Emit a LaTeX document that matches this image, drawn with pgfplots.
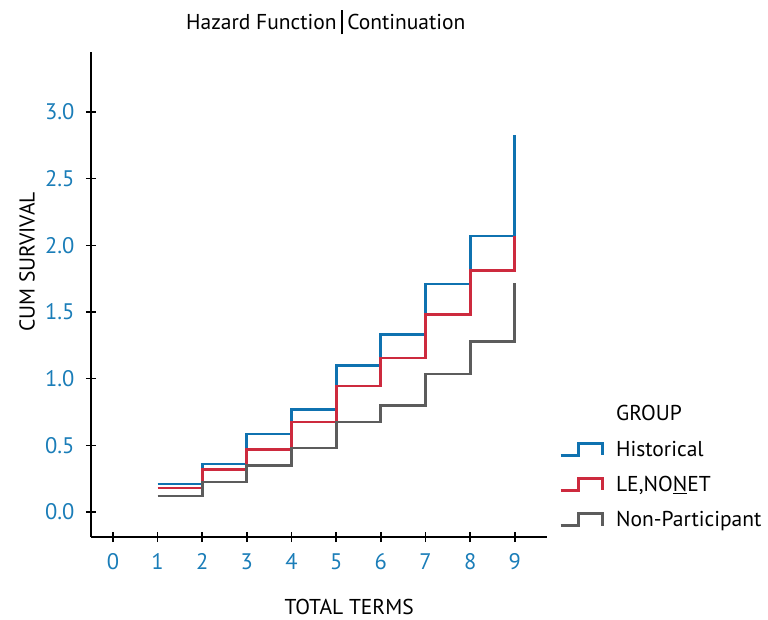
\documentclass[border=0pt]{standalone}
\usepackage{fontspec}
\setmainfont{PT Sans}
\usepackage{pgfplots}
\pgfplotsset{compat=1.18}
\definecolor{cBlue}{HTML}{0F72B0}
\definecolor{cRed}{HTML}{CD2A3E}
\definecolor{cGray}{HTML}{5C5C5C}
\definecolor{cTick}{HTML}{1A7DB8}
\pgfplotsset{steplegend/.style={legend image code/.code={\draw[##1] (0pt,-6pt) -- (18pt,-6pt) -- (18pt,6pt) -- (42pt,6pt) -- (42pt,-6pt);}}}
\begin{document}
\begin{tikzpicture}
\begin{axis}[
  scale only axis,
  width=456pt, height=485pt,
  xmin=-0.49, xmax=9.72,
  ymin=-0.1875, ymax=3.45,
  axis x line*=bottom, axis y line*=left,
  axis line style={line width=1.6pt, black, -},
  xtick={0,1,...,9},
  ytick={0,0.5,...,3},
  tick align=center,
  major tick length=10pt,
  tick style={line width=1.6pt, black},
  /pgf/number format/assume math mode=true,
  yticklabel style={/pgf/number format/fixed, /pgf/number format/fixed zerofill, /pgf/number format/precision=1, xshift=-8pt},
  every tick label/.append style={font=\fontsize{22.5}{26}\selectfont, text=cTick},
  xticklabel style={yshift=-8pt},
  label style={font=\fontsize{21.5}{25}\selectfont},
  xlabel={TOTAL TERMS},
  ylabel={CUM SURVIVAL},
  xlabel style={at={(axis description cs:0.566,-0.144)}, anchor=center},
  ylabel style={at={(axis description cs:-0.140,0.567)}, anchor=center},
  title={Hazard Function\hspace{0.2em}\rule[-0.22em]{0.09em}{1.15em}\hspace{0.2em}Continuation},
  title style={at={(axis description cs:0.515,1.062)}, anchor=center, yshift=-6pt, font=\fontsize{21.5}{25}\selectfont},
  legend style={at={(axis description cs:1.020,0.2797)}, anchor=north west, draw=none, fill=none,
    font=\fontsize{21.5}{25}\selectfont, row sep=14.5pt, column sep=10pt, cells={anchor=west}},
  legend cell align=left,
  clip=false,
]
\coordinate (O) at (axis description cs:0,0);
\addlegendimage{empty legend}
\addlegendentry{GROUP\rule[-13pt]{0pt}{10pt}}
\addplot[const plot, color=cBlue, line width=2.8pt, steplegend]
  coordinates {(1,0.21) (2,0.36) (3,0.585) (4,0.77) (5,1.10) (6,1.33) (7,1.71) (8,2.07) (9,2.83)};
\addlegendentry{Historical}
\addplot[const plot, color=cRed, line width=2.8pt, steplegend]
  coordinates {(1,0.18) (2,0.32) (3,0.47) (4,0.675) (5,0.945) (6,1.155) (7,1.48) (8,1.81) (9,2.07)};
\addlegendentry{LE,NO\underline{N}ET}
\addplot[const plot, color=cGray, line width=2.8pt, steplegend]
  coordinates {(1,0.12) (2,0.225) (3,0.35) (4,0.48) (5,0.675) (6,0.80) (7,1.035) (8,1.28) (9,1.72)};
\addlegendentry{Non-Participant}
\end{axis}
\pgfresetboundingbox
\path[use as bounding box] ([shift={(-91pt,-82pt)}]O) rectangle ([shift={(677pt,537pt)}]O);
\end{tikzpicture}
\end{document}
